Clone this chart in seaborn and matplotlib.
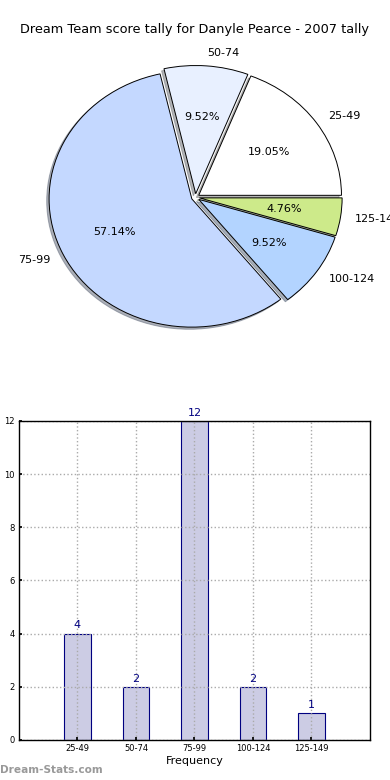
import matplotlib
matplotlib.use("Agg")
import matplotlib.pyplot as plt
import seaborn as sns
import pandas as pd

categories = ["25-49", "50-74", "75-99", "100-124", "125-149"]
counts = [4, 2, 12, 2, 1]
pie_colors = ["#ffffff", "#e8f0ff", "#c4d8ff", "#b3d4ff", "#cdea8a"]
title = "Dream Team score tally for Danyle Pearce - 2007 tally"
y_ticks = [0, 2, 4, 6, 8, 10, 12]

sns.set_theme(style="white")
plt.rcParams["font.family"] = ["DejaVu Sans"]
plt.rcParams["text.color"] = "black"
plt.rcParams["axes.labelcolor"] = "black"
plt.rcParams["xtick.color"] = "black"
plt.rcParams["ytick.color"] = "black"

fig = plt.figure(figsize=(3.9, 7.8), dpi=100)

# Pie
ax1 = fig.add_axes([0.0436, 0.5415, 0.915, 0.411])
ax1.pie(counts, labels=categories, colors=pie_colors, explode=[0.028] * len(counts),
        autopct="%1.2f%%", shadow={"ox": -0.012, "oy": -0.012, "shade": 0.55},
        startangle=0,
        wedgeprops=dict(edgecolor="black", linewidth=0.7),
        textprops=dict(fontsize=8, color="black"))
ax1.set_aspect("auto")
ax1.set_xlim(-1.25, 1.25)
ax1.set_ylim(-1.25, 1.25)
fig.text(0.5, 1 - 30 / 780, title, ha="center", va="center", fontsize=9.3, color="black")

# Bar
ax2 = fig.add_axes([0.0487, 0.0513, 0.9, 0.409])
df = pd.DataFrame({"Frequency": categories, "count": counts})
sns.barplot(data=df, x="Frequency", y="count", ax=ax2, color="#ccccE4",
            edgecolor="#000080", linewidth=0.8, width=0.45, saturation=1)
ax2.set_xlim(-1, 5)
ax2.set_ylim(0, 12)
ax2.set_yticks(y_ticks)
ax2.tick_params(axis="both", labelsize=6, length=2, direction="in", pad=3,
                left=True, bottom=True)
ax2.grid(True, linestyle=":", color="#aaaaaa", linewidth=1)
ax2.set_axisbelow(False)
for s in ax2.spines.values():
    s.set_color("black")
    s.set_linewidth(1)
    s.set_zorder(10)
ax2.set_xlabel("Frequency", fontsize=8, labelpad=2)
ax2.set_ylabel("Stat Interval", fontsize=8)
ax2.yaxis.set_label_coords(-0.046, 0.5)
for i, c in enumerate(counts):
    ax2.text(i, c + 0.12, str(c), ha="center", va="bottom", color="#000080", fontsize=8)

fig.text(0.0, 1 - 770 / 780, "Dream-Stats.com", ha="left", va="center",
         fontsize=7.6, color="#999999", fontweight="bold")

fig.savefig("out.png", dpi=100)
